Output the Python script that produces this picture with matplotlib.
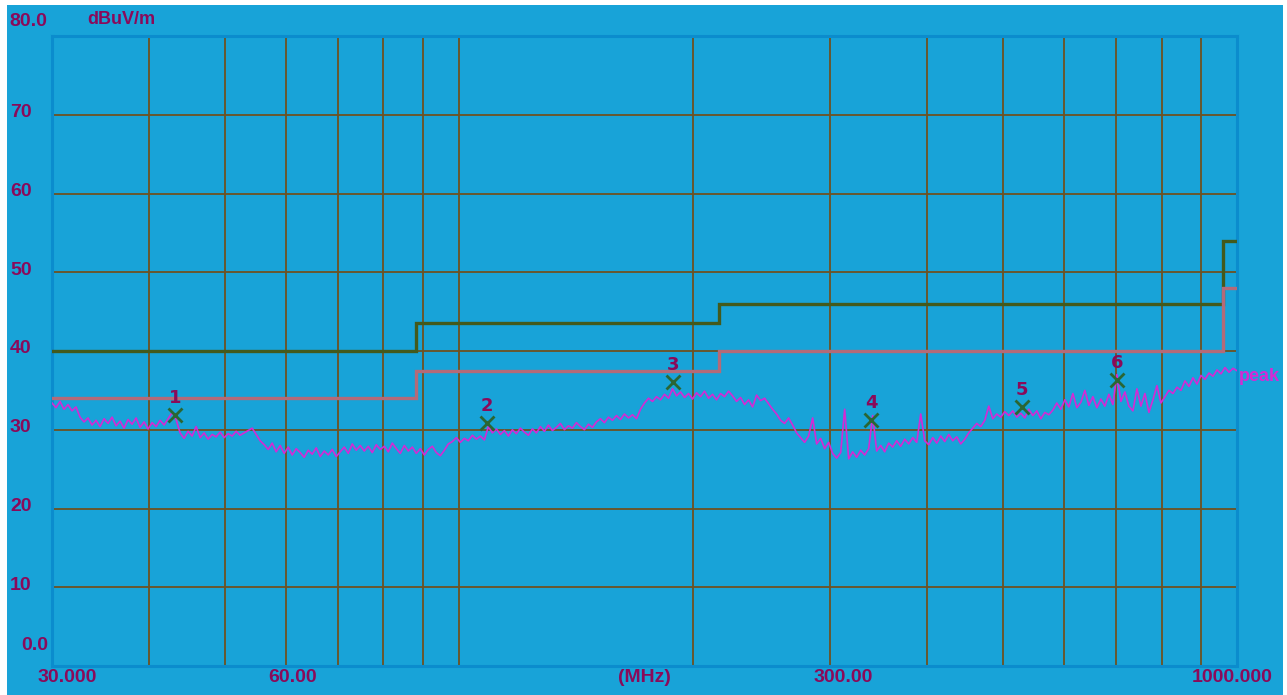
import numpy as np
import matplotlib
matplotlib.use("Agg")
import matplotlib.pyplot as plt
from matplotlib.patches import Rectangle

# ---- data -------------------------------------------------------------
f_start, f_stop = 30.0, 1000.0

# peak detector sweep (dBuV/m), one reading per sweep point
peak_levels = [
    33.4, 32.8, 33.6, 32.6, 33.2, 32.4, 32.9, 31.6, 31.0, 31.5,
    30.6, 31.2, 30.4, 31.4, 30.8, 31.6, 30.5, 31.1, 30.2, 31.3,
    30.7, 31.5, 30.3, 31.0, 30.1, 30.9, 30.4, 31.2, 30.6, 31.4,
    32.2, 31.3, 29.6, 28.9, 29.8, 29.2, 30.4, 29.0, 29.6, 28.8,
    29.4, 29.1, 29.7, 29.0, 29.5, 29.2, 29.8, 29.3, 29.6, 29.9,
    30.2, 29.4, 28.6, 28.1, 27.5, 28.3, 27.2, 28.0, 27.0, 27.8,
    26.8, 27.6, 27.1, 26.5, 27.4, 26.9, 27.7, 26.6, 27.3, 26.8,
    27.5, 26.6, 27.2, 27.8, 27.0, 28.2, 27.4, 28.0, 27.3, 27.9,
    27.1, 28.1, 27.5, 27.9, 27.2, 28.3, 27.6, 27.0, 28.0, 27.3,
    27.8, 27.0, 27.6, 26.8, 27.5, 27.9, 27.1, 26.7, 27.4, 28.2,
    28.5, 29.0, 28.4, 28.9, 28.6, 29.3, 28.8, 29.2, 28.7, 30.4,
    29.6, 30.1, 29.4, 29.9, 29.2, 30.0, 29.5, 30.2, 29.7, 29.3,
    30.1, 29.6, 30.4, 29.8, 30.6, 29.9, 30.3, 30.8, 30.0, 30.5,
    30.2, 30.9, 30.4, 30.0, 30.7, 30.3, 31.0, 31.4, 30.9, 31.6,
    31.2, 31.8, 31.3, 32.0, 31.5, 31.9, 31.4, 32.6, 33.4, 34.0,
    33.6, 34.2, 33.8, 34.5, 34.0, 35.2, 34.3, 34.8, 34.1, 34.6,
    33.9, 34.7, 34.2, 34.9, 34.0, 34.5, 33.8, 34.6, 34.2, 34.9,
    34.3, 33.6, 34.1, 33.2, 33.8, 32.9, 34.4, 33.7, 34.0, 33.3,
    32.6, 32.0, 31.2, 30.8, 31.5, 30.6, 29.6, 29.0, 28.4, 29.2,
    31.5, 28.2, 28.9, 27.6, 28.4, 27.0, 26.4, 27.1, 32.6, 26.3,
    27.2, 26.5, 27.4, 26.8, 27.6, 31.8, 27.3, 28.0, 27.2, 28.3,
    27.8, 28.6, 27.9, 28.8, 28.2, 29.0, 28.4, 32.0, 28.6, 28.1,
    29.0, 28.3, 29.2, 28.5, 29.4, 28.6, 29.1, 28.2, 28.8, 29.6,
    30.2, 30.8, 30.4, 31.2, 33.0, 31.4, 32.0, 31.6, 32.3, 31.8,
    32.4, 31.6, 32.1, 31.5, 32.6, 31.8, 32.4, 31.4, 32.2, 31.9,
    32.5, 33.4, 32.6, 33.8, 32.9, 34.6, 32.8, 33.5, 35.0, 33.1,
    34.2, 32.8, 33.9, 33.0, 34.5, 33.2, 37.0, 33.6, 34.8, 33.0,
    32.4, 35.2, 33.0, 34.6, 32.2, 33.8, 35.6, 33.4, 34.2, 35.0,
    34.6, 35.4, 35.0, 36.2, 35.5, 36.6, 35.8, 36.9, 36.4, 37.2,
    36.8, 37.6, 37.1, 37.9, 37.3, 37.8, 37.5,
]
sweep_freq = np.geomspace(f_start, f_stop, len(peak_levels))

# limit lines (step edges in MHz)
limit_edges = [30, 88, 216, 960, 1000]
limit_levels = [40.0, 43.5, 46.0, 54.0, 54.0]
margin_levels = [34.0, 37.5, 40.0, 48.0, 48.0]

# measured markers
marker_ids = ["1", "2", "3", "4", "5", "6"]
marker_freq = [43.2, 108.7, 188.7, 338.6, 529.5, 701.0]
marker_level = [31.9, 30.8, 36.1, 31.2, 32.9, 36.3]

y_ticks = [10, 20, 30, 40, 50, 60, 70]
x_grid = [40, 50, 60, 70, 80, 90, 100, 200, 300, 400, 500, 600, 700, 800, 900]
x_labels = [(30, "30.000", 15), (60, "60.00", 6), (300, "300.00", 13),
            (1000, "1000.000", -5)]

# ---- style ------------------------------------------------------------
BG = "#18a3d8"
FRAME = "#0b8ccd"
GRID = "#6e5222"
TXT = "#8a0a5a"
TRACE = "#d42ad4"
LIMIT = "#435a1c"
MARGIN = "#b46a78"
MARK = "#2a6634"

W, H = 1287, 695
fig = plt.figure(figsize=(W / 100, H / 100), dpi=100, facecolor="white")
fig.patches.append(Rectangle((7 / W, 0), (W - 11) / W, 1 - 5 / H,
                             transform=fig.transFigure, facecolor=BG,
                             edgecolor="none", zorder=-10))

ax = fig.add_axes([52 / W, 1 - 666 / H, (1237 - 52) / W, (666 - 36) / H])
ax.set_facecolor(BG)
ax.set_xscale("log")
ax.set_xlim(f_start, f_stop)
ax.set_ylim(0, 80)
ax.set_xticks([])
ax.set_yticks([])
ax.minorticks_off()
for s in ax.spines.values():
    s.set_color(FRAME)
    s.set_linewidth(2.2)

for v in y_ticks:
    ax.axhline(v, color=GRID, lw=1.3, zorder=1)
for f in x_grid:
    ax.axvline(f, color=GRID, lw=1.3, zorder=1)

ax.plot(limit_edges, limit_levels, drawstyle="steps-post", color=LIMIT,
        lw=2.4, zorder=3, solid_joinstyle="miter")
ax.plot(limit_edges, margin_levels, drawstyle="steps-post", color=MARGIN,
        lw=2.4, zorder=4, solid_joinstyle="miter")

ax.plot(sweep_freq, peak_levels, color=TRACE, lw=1.2, zorder=5)

ax.plot(marker_freq, marker_level, linestyle="none", marker="x",
        markersize=10, markeredgewidth=2.0, color=MARK, zorder=6)
for mid, f, lv in zip(marker_ids, marker_freq, marker_level):
    ax.annotate(mid, (f, lv), xytext=(0, 8), textcoords="offset pixels",
                ha="center", va="bottom", color=TXT, fontsize=13,
                fontweight="bold", zorder=7)

fam = ["Liberation Sans", "DejaVu Sans"]
tk = dict(color=TXT, fontsize=14, fontweight="bold", family=fam,
          annotation_clip=False)

for v in y_ticks:
    ax.annotate(str(v), (0, v), xycoords=("axes fraction", "data"),
                xytext=(-42, 2), textcoords="offset pixels",
                ha="left", va="center", **tk)
ax.annotate("80.0", (0, 80), xycoords=("axes fraction", "data"),
            xytext=(-43, 14), textcoords="offset pixels",
            ha="left", va="center", **tk)
ax.annotate("0.0", (0, 0), xycoords=("axes fraction", "data"),
            xytext=(-4, 21), textcoords="offset pixels",
            ha="right", va="center", **tk)
ax.annotate("dBuV/m", (0, 80), xycoords=("axes fraction", "data"),
            xytext=(35, 16), textcoords="offset pixels",
            ha="left", va="center", color=TXT, fontsize=13,
            fontweight="bold", family=fam, annotation_clip=False)

for f, lab, dx in x_labels:
    ax.annotate(lab, (f, 0), xycoords=("data", "axes fraction"),
                xytext=(dx, -12), textcoords="offset pixels",
                ha="center", va="center", **tk)
ax.annotate("(MHz)", (0.5, 0), xycoords="axes fraction",
            xytext=(0, -12), textcoords="offset pixels",
            ha="center", va="center", **tk)

ax.annotate("peak", (f_stop, peak_levels[-1]), xytext=(2, -6),
            textcoords="offset pixels", ha="left", va="center",
            color=TRACE, fontsize=13, fontweight="bold", family=fam,
            annotation_clip=False)

fig.savefig("out.png", dpi=100, facecolor="white")
